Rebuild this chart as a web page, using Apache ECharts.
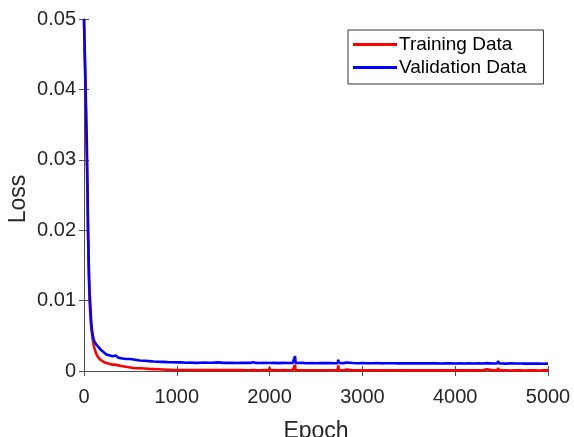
<!DOCTYPE html>
<html>
<head>
<meta charset="utf-8">
<script src="https://cdn.jsdelivr.net/npm/echarts@6/dist/echarts.min.js"></script>
<style>
  html, body { margin: 0; padding: 0; background: #fff; }
  #chart { width: 574px; height: 437px; }
</style>
</head>
<body>
<div id="chart"></div>
<script>
// Epochs at which the loss was logged (denser where the curves fall fast).
const epochs = [
  0, 10, 20, 30, 38, 44, 50, 55, 60, 65,
  70, 75, 80, 86, 95, 105, 115, 130, 150, 175,
  200, 225, 250, 280, 310, 340, 370, 400, 450, 500,
  550, 600, 650, 700, 750, 800, 850, 900, 950, 1000,
  1050, 1100, 1150, 1200, 1250, 1300, 1350, 1400, 1450, 1500,
  1550, 1600, 1650, 1700, 1750, 1800, 1825, 1850, 1900, 1950,
  1992, 2000, 2008, 2050, 2100, 2150, 2200, 2250, 2268, 2274,
  2280, 2300, 2350, 2400, 2450, 2500, 2550, 2600, 2650, 2700,
  2734, 2740, 2746, 2800, 2830, 2850, 2900, 2950, 3000, 3050,
  3100, 3150, 3200, 3250, 3300, 3316, 3350, 3400, 3450, 3500,
  3550, 3600, 3650, 3700, 3750, 3800, 3850, 3900, 3950, 4000,
  4050, 4100, 4150, 4200, 4250, 4300, 4340, 4350, 4400, 4450,
  4459, 4465, 4471, 4500, 4550, 4600, 4650, 4700, 4750, 4800,
  4850, 4900, 4950, 5000
];

// Training loss
const trainingLoss = [
  0.0500, 0.0440, 0.0370, 0.0305, 0.0245, 0.0190, 0.0150, 0.0122, 0.0100, 0.0088,
  0.0076, 0.0066, 0.0060, 0.0054, 0.0044, 0.0037, 0.0031, 0.0025, 0.0020, 0.0016,
  0.0014, 0.0012, 0.0011, 0.0010, 0.0009, 0.0009, 0.0008, 0.0007, 0.0006, 0.0005,
  0.00040, 0.00040, 0.00035, 0.00030, 0.00027, 0.00024, 0.00021, 0.00018, 0.00016, 0.00015,
  0.00015, 0.00014, 0.00015, 0.00013, 0.00014, 0.00013, 0.00014, 0.00012, 0.00013, 0.00012,
  0.00013, 0.00012, 0.00012, 0.00013, 0.00011, 0.00012, 0.00014, 0.00012, 0.00011, 0.00012,
  0.00011, 0.00050, 0.00011, 0.00012, 0.00011, 0.00012, 0.00010, 0.00011, 0.00011, 0.00090,
  0.00011, 0.00010, 0.00011, 0.00010, 0.00011, 0.00010, 0.00010, 0.00011, 0.00010, 0.00010,
  0.00010, 0.00080, 0.00010, 0.00011, 0.00020, 0.00010, 0.00010, 0.00011, 0.00009, 0.00010,
  0.00010, 0.00009, 0.00010, 0.00009, 0.00010, 0.00020, 0.00010, 0.00009, 0.00010, 0.00009,
  0.00010, 0.00009, 0.00009, 0.00010, 0.00009, 0.00009, 0.00010, 0.00009, 0.00009, 0.00009,
  0.00009, 0.00010, 0.00009, 0.00009, 0.00009, 0.00010, 0.00025, 0.00009, 0.00009, 0.00009,
  0.00009, 0.00040, 0.00009, 0.00009, 0.00009, 0.00008, 0.00009, 0.00009, 0.00008, 0.00009,
  0.00009, 0.00008, 0.00009, 0.00009
];

// Validation loss
const validationLoss = [
  0.0500, 0.0442, 0.0385, 0.0325, 0.0258, 0.0200, 0.0160, 0.0132, 0.0112, 0.0100,
  0.0088, 0.0076, 0.0066, 0.0058, 0.0050, 0.0045, 0.0041, 0.0038, 0.0035, 0.0031,
  0.0028, 0.0025, 0.0023, 0.0022, 0.0021, 0.0022, 0.0019, 0.0018, 0.0017, 0.0017,
  0.00160, 0.00150, 0.00145, 0.00140, 0.00135, 0.00132, 0.00130, 0.00126, 0.00124, 0.00123,
  0.00122, 0.00118, 0.00120, 0.00116, 0.00118, 0.00121, 0.00117, 0.00119, 0.00123, 0.00116,
  0.00115, 0.00118, 0.00114, 0.00117, 0.00115, 0.00116, 0.00124, 0.00115, 0.00113, 0.00116,
  0.00114, 0.00136, 0.00113, 0.00115, 0.00112, 0.00116, 0.00113, 0.00114, 0.00113, 0.00210,
  0.00114, 0.00112, 0.00115, 0.00111, 0.00113, 0.00110, 0.00114, 0.00112, 0.00113, 0.00111,
  0.00112, 0.00160, 0.00113, 0.00112, 0.00120, 0.00111, 0.00113, 0.00110, 0.00112, 0.00110,
  0.00111, 0.00113, 0.00109, 0.00111, 0.00110, 0.00118, 0.00111, 0.00109, 0.00110, 0.00108,
  0.00110, 0.00109, 0.00111, 0.00108, 0.00109, 0.00110, 0.00107, 0.00109, 0.00108, 0.00107,
  0.00109, 0.00106, 0.00108, 0.00107, 0.00109, 0.00106, 0.00112, 0.00108, 0.00106, 0.00108,
  0.00107, 0.00140, 0.00108, 0.00107, 0.00105, 0.00108, 0.00106, 0.00107, 0.00105, 0.00106,
  0.00105, 0.00107, 0.00104, 0.00105
];

const xTicks = { min: 0, max: 5000, interval: 1000 };
const yTicks = { min: 0, max: 0.05, interval: 0.01 };

const FONT = 'Liberation Sans';
const AXIS_COLOR = '#4d4d4d';
const TEXT_COLOR = '#262626';

const pairs = (ys) => epochs.map((e, i) => [e, ys[i]]);

const chart = echarts.init(document.getElementById('chart'), null, { renderer: 'canvas' });

const boxAxis = {
  axisLine: { show: true, lineStyle: { color: AXIS_COLOR, width: 1 } },
  axisTick: { show: true, inside: true, length: 5, lineStyle: { color: AXIS_COLOR } },
  splitLine: { show: false }
};

chart.setOption({
  animation: false,
  backgroundColor: '#ffffff',
  grid: { left: 84, right: 26, top: 19, bottom: 66, containLabel: false, outerBoundsMode: 'none' },
  legend: {
    orient: 'vertical',
    left: 348,
    top: 30,
    padding: [5, 17, 7, 5],
    itemGap: 4,
    itemWidth: 44,
    itemHeight: 3,
    icon: 'rect',
    backgroundColor: '#ffffff',
    borderColor: '#333333',
    borderWidth: 1,
    borderRadius: 0,
    textStyle: { fontFamily: FONT, fontSize: 19, color: '#000000', padding: [0, 0, 0, -3] },
    data: ['Training Data', 'Validation Data']
  },
  xAxis: [
    Object.assign({
      type: 'value',
      position: 'bottom',
      min: xTicks.min, max: xTicks.max, interval: xTicks.interval,
      name: 'Epoch',
      nameLocation: 'middle',
      nameGap: 49,
      nameMoveOverlap: false,
      nameTextStyle: { fontFamily: FONT, fontSize: 23, color: TEXT_COLOR },
      axisLabel: {
        fontFamily: FONT, fontSize: 20, color: TEXT_COLOR, margin: 16,
        formatter: (v) => String(v)
      }
    }, boxAxis),
    Object.assign({
      type: 'value',
      position: 'top',
      min: xTicks.min, max: xTicks.max, interval: xTicks.interval,
      axisLabel: { show: false }
    }, boxAxis)
  ],
  yAxis: [
    Object.assign({
      type: 'value',
      position: 'left',
      min: yTicks.min, max: yTicks.max, interval: yTicks.interval,
      name: 'Loss',
      nameLocation: 'middle',
      nameGap: 54,
      nameMoveOverlap: false,
      nameTextStyle: { fontFamily: FONT, fontSize: 23, color: TEXT_COLOR, padding: [0, 8, 0, 0] },
      axisLabel: { fontFamily: FONT, fontSize: 20, color: TEXT_COLOR, margin: 8 }
    }, boxAxis),
    Object.assign({
      type: 'value',
      position: 'right',
      min: yTicks.min, max: yTicks.max, interval: yTicks.interval,
      axisLabel: { show: false }
    }, boxAxis)
  ],
  series: [
    {
      name: 'Training Data',
      type: 'line',
      xAxisIndex: 0, yAxisIndex: 0,
      data: pairs(trainingLoss),
      showSymbol: false,
      symbol: 'none',
      clip: true,
      lineStyle: { color: '#ff0000', width: 2.6 },
      itemStyle: { color: '#ff0000' }
    },
    {
      name: 'Validation Data',
      type: 'line',
      xAxisIndex: 0, yAxisIndex: 0,
      data: pairs(validationLoss),
      showSymbol: false,
      symbol: 'none',
      clip: true,
      lineStyle: { color: '#0000ff', width: 2.6 },
      itemStyle: { color: '#0000ff' }
    }
  ]
});
</script>
</body>
</html>
